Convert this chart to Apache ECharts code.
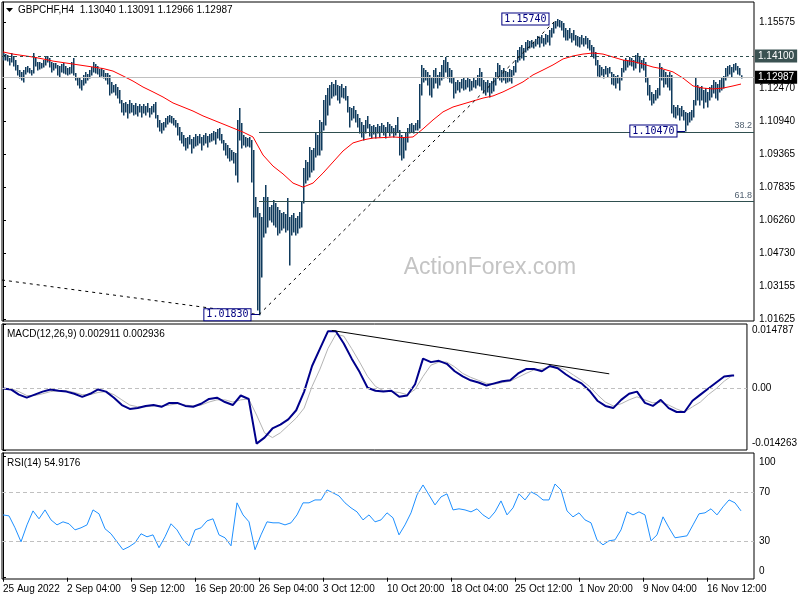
<!DOCTYPE html>
<html><head><meta charset="utf-8">
<script src="https://cdn.jsdelivr.net/npm/echarts@6/dist/echarts.min.js"></script>
<style>html,body{margin:0;padding:0;background:#fff}#c{width:800px;height:600px}</style>
</head><body><div id="c"></div>
<script>
// ---------- DATA ----------
const timeLabels = ["25 Aug 2022","2 Sep 04:00","9 Sep 12:00","16 Sep 20:00","26 Sep 04:00","3 Oct 12:00","10 Oct 20:00","18 Oct 04:00","25 Oct 12:00","1 Nov 20:00","9 Nov 04:00","16 Nov 12:00"];
const labelEveryBars = 32;
const priceTicks = [1.15575,1.14045,1.12470,1.10940,1.09365,1.07835,1.06260,1.04730,1.03155,1.01625];
const macdTicks = [-0.014263,0,0.014787];
const rsiTicks = [0,30,70,100];

const barHigh = [
1.1414,1.1409,1.1405,1.1391,1.1414,1.1400,1.1381,1.1358,1.1334,1.1325,
1.1334,1.1348,1.1353,1.1343,1.1334,1.1414,1.1395,1.1372,1.1372,1.1367,
1.1381,1.1395,1.1400,1.1391,1.1372,1.1367,1.1367,1.1358,1.1353,1.1362,
1.1367,1.1353,1.1343,1.1348,1.1372,1.1391,1.1320,1.1301,1.1296,1.1287,
1.1311,1.1325,1.1315,1.1334,1.1348,1.1372,1.1362,1.1353,1.1339,1.1343,
1.1334,1.1320,1.1320,1.1311,1.1278,1.1264,1.1268,1.1254,1.1240,1.1193,
1.1179,1.1184,1.1174,1.1193,1.1179,1.1169,1.1179,1.1165,1.1174,1.1165,
1.1174,1.1165,1.1179,1.1155,1.1165,1.1174,1.1184,1.1122,1.1099,1.1085,
1.1089,1.1108,1.1118,1.1122,1.1118,1.1108,1.1099,1.1085,1.1066,1.1042,
1.1028,1.1014,1.1019,1.1028,1.1009,1.1019,1.1033,1.1024,1.1033,1.1019,
1.1028,1.1038,1.1024,1.1033,1.1038,1.1047,1.1042,1.1057,1.1061,1.1033,
1.1005,1.0991,1.0981,1.0967,1.0958,1.0948,1.0944,1.1099,1.1155,1.1085,
1.1028,1.1019,1.1014,1.1019,1.1005,1.0958,1.0737,1.0689,1.0661,1.0642,
1.0737,1.0793,1.0737,1.0689,1.0699,1.0722,1.0708,1.0689,1.0675,1.0661,
1.0666,1.0656,1.0732,1.0642,1.0652,1.0661,1.0638,1.0647,1.0666,1.0713,
1.0873,1.0911,1.0901,1.0972,1.0958,1.0967,1.1038,1.1028,1.1099,1.1089,
1.1193,1.1217,1.1249,1.1264,1.1278,1.1268,1.1287,1.1264,1.1259,1.1268,
1.1249,1.1259,1.1212,1.1160,1.1155,1.1165,1.1146,1.1127,1.1108,1.1089,
1.1075,1.1099,1.1118,1.1080,1.1071,1.1075,1.1066,1.1080,1.1071,1.1085,
1.1075,1.1066,1.1089,1.1080,1.1071,1.1061,1.1075,1.1113,1.1052,1.1028,
1.1019,1.1042,1.1061,1.1080,1.1085,1.1075,1.1085,1.1099,1.1268,1.1358,
1.1343,1.1334,1.1325,1.1311,1.1296,1.1334,1.1343,1.1311,1.1325,1.1358,
1.1381,1.1395,1.1372,1.1343,1.1334,1.1296,1.1278,1.1287,1.1278,1.1292,
1.1296,1.1287,1.1301,1.1292,1.1282,1.1296,1.1287,1.1311,1.1343,1.1325,
1.1287,1.1278,1.1287,1.1273,1.1282,1.1296,1.1325,1.1367,1.1358,1.1334,
1.1343,1.1329,1.1325,1.1339,1.1334,1.1353,1.1381,1.1428,1.1442,1.1452,
1.1438,1.1466,1.1475,1.1470,1.1475,1.1466,1.1480,1.1494,1.1489,1.1499,
1.1485,1.1503,1.1499,1.1522,1.1532,1.1560,1.1565,1.1574,1.1569,1.1565,
1.1555,1.1532,1.1522,1.1532,1.1508,1.1522,1.1499,1.1494,1.1489,1.1499,
1.1485,1.1494,1.1485,1.1475,1.1452,1.1442,1.1419,1.1381,1.1358,1.1348,
1.1339,1.1353,1.1343,1.1348,1.1325,1.1315,1.1306,1.1311,1.1301,1.1343,
1.1381,1.1391,1.1381,1.1395,1.1391,1.1381,1.1405,1.1414,1.1400,1.1381,
1.1391,1.1372,1.1301,1.1264,1.1231,1.1221,1.1240,1.1249,1.1367,1.1348,
1.1334,1.1325,1.1311,1.1325,1.1311,1.1169,1.1160,1.1169,1.1155,1.1165,
1.1146,1.1137,1.1132,1.1137,1.1146,1.1193,1.1296,1.1264,1.1249,1.1259,
1.1240,1.1249,1.1231,1.1254,1.1264,1.1287,1.1278,1.1268,1.1287,1.1296,
1.1306,1.1343,1.1353,1.1358,1.1348,1.1362,1.1367,1.1353,1.1343,1.13091
];
const barLow = [
1.1381,1.1381,1.1376,1.1358,1.1372,1.1353,1.1334,1.1311,1.1296,1.1287,
1.1278,1.1315,1.1325,1.1320,1.1311,1.1320,1.1353,1.1334,1.1339,1.1343,
1.1348,1.1358,1.1372,1.1348,1.1325,1.1334,1.1343,1.1311,1.1301,1.1325,
1.1320,1.1315,1.1311,1.1315,1.1320,1.1311,1.1287,1.1264,1.1249,1.1240,
1.1264,1.1273,1.1287,1.1296,1.1311,1.1325,1.1320,1.1315,1.1301,1.1306,
1.1296,1.1287,1.1268,1.1217,1.1226,1.1231,1.1217,1.1202,1.1179,1.1137,
1.1122,1.1137,1.1108,1.1132,1.1137,1.1122,1.1127,1.1118,1.1137,1.1113,
1.1132,1.1122,1.1137,1.1113,1.1127,1.1137,1.1108,1.1066,1.1047,1.1038,
1.1052,1.1066,1.1080,1.1089,1.1085,1.1075,1.1066,1.1028,1.1005,1.0991,
1.0977,1.0958,1.0967,1.0986,1.0944,1.0967,1.0977,1.0981,1.0991,1.0958,
1.0981,1.0991,1.0972,1.0995,1.1000,1.1005,1.0986,1.1014,1.1005,1.0991,
1.0958,1.0934,1.0920,1.0906,1.0911,1.0897,1.0840,1.0807,1.1005,1.0967,
1.0981,1.0972,1.0977,1.0972,1.0807,1.0642,1.0642,1.0205,1.0183,1.0360,
1.0548,1.0567,1.0595,1.0628,1.0619,1.0605,1.0595,1.0558,1.0567,1.0581,
1.0591,1.0572,1.0581,1.0417,1.0558,1.0572,1.0558,1.0567,1.0591,1.0595,
1.0708,1.0802,1.0817,1.0831,1.0854,1.0864,1.0925,1.0934,1.0934,1.0958,
1.1052,1.1075,1.1122,1.1169,1.1202,1.1212,1.1217,1.1193,1.1179,1.1207,
1.1202,1.1193,1.1137,1.1066,1.1099,1.1108,1.1089,1.1066,1.1038,1.1019,
1.1005,1.1038,1.1061,1.1024,1.1014,1.1033,1.1014,1.1038,1.1019,1.1042,
1.1028,1.1014,1.1042,1.1024,1.1038,1.1019,1.1028,1.1042,1.0934,1.0911,
1.0920,1.0958,1.0995,1.1038,1.1042,1.1038,1.1052,1.1052,1.1061,1.1217,
1.1278,1.1287,1.1264,1.1217,1.1207,1.1249,1.1273,1.1249,1.1264,1.1287,
1.1296,1.1325,1.1296,1.1278,1.1273,1.1202,1.1226,1.1240,1.1231,1.1249,
1.1240,1.1245,1.1254,1.1235,1.1240,1.1254,1.1249,1.1264,1.1259,1.1240,
1.1226,1.1217,1.1231,1.1207,1.1226,1.1235,1.1264,1.1296,1.1287,1.1278,
1.1287,1.1273,1.1278,1.1282,1.1273,1.1311,1.1325,1.1372,1.1381,1.1391,
1.1381,1.1419,1.1428,1.1438,1.1442,1.1438,1.1447,1.1456,1.1442,1.1461,
1.1447,1.1456,1.1466,1.1452,1.1489,1.1508,1.1532,1.1541,1.1536,1.1522,
1.1489,1.1475,1.1475,1.1485,1.1466,1.1475,1.1452,1.1447,1.1442,1.1456,
1.1447,1.1456,1.1438,1.1428,1.1400,1.1391,1.1358,1.1306,1.1301,1.1311,
1.1296,1.1315,1.1301,1.1320,1.1268,1.1264,1.1249,1.1273,1.1240,1.1287,
1.1325,1.1334,1.1348,1.1358,1.1353,1.1334,1.1343,1.1367,1.1325,1.1343,
1.1334,1.1278,1.1217,1.1193,1.1169,1.1179,1.1193,1.1202,1.1217,1.1287,
1.1254,1.1268,1.1254,1.1240,1.1132,1.1113,1.1108,1.1122,1.1099,1.1118,
1.1099,1.1047,1.1075,1.1089,1.1099,1.1113,1.1169,1.1193,1.1169,1.1193,
1.1155,1.1184,1.1160,1.1193,1.1207,1.1226,1.1202,1.1193,1.1231,1.1240,
1.1249,1.1287,1.1306,1.1315,1.1301,1.1325,1.1334,1.1315,1.1311,1.12966
];
// red moving average, read every 5 bars (last value = last bar)
const maValues = [
1.1419,1.1409,1.1402,1.1395,1.1386,1.1376,1.1369,1.1362,1.1355,1.1348,
1.1341,1.1329,1.1306,1.1282,1.1254,1.1231,1.1207,1.1179,1.1160,1.1141,
1.1118,1.1099,1.1080,1.1061,1.1042,1.1019,1.0934,1.0882,1.0845,1.0802,
1.0783,1.0802,1.0849,1.0901,1.0953,1.0991,1.1005,1.1014,1.1016,1.1019,
1.1016,1.1019,1.1057,1.1099,1.1137,1.1160,1.1174,1.1188,1.1202,1.1212,
1.1231,1.1254,1.1278,1.1311,1.1334,1.1358,1.1386,1.1400,1.1409,1.1414,
1.1409,1.1395,1.1381,1.1374,1.1362,1.1348,1.1339,1.1325,1.1296,1.1259,
1.1249,1.1245,1.1249,1.1259,1.1268
];
// MACD(12,26,9), read every 4 bars (last value = last bar)
const macdMain = [
-0.0001,-0.0003,-0.0015,-0.0022,-0.0015,-0.0008,-0.0003,-0.0006,-0.0008,-0.0013,
-0.0020,-0.0013,-0.0003,-0.0008,-0.0022,-0.0039,-0.0048,-0.0046,-0.0041,-0.0039,
-0.0043,-0.0034,-0.0034,-0.0041,-0.0043,-0.0036,-0.0025,-0.0022,-0.0032,-0.0039,
-0.0017,-0.0025,-0.0128,-0.0114,-0.0093,-0.0084,-0.0072,-0.0051,-0.0008,0.0051,
0.0091,0.0131,0.0131,0.0103,0.0068,0.0037,0.0001,-0.0006,-0.0008,-0.0006,
-0.0020,-0.0017,0.0009,0.0068,0.0060,0.0063,0.0056,0.0039,0.0027,0.0018,
0.0013,0.0006,0.0011,0.0016,0.0018,0.0034,0.0044,0.0044,0.0039,0.0051,
0.0046,0.0032,0.0020,0.0011,-0.0006,-0.0029,-0.0041,-0.0046,-0.0027,-0.0013,
-0.0008,-0.0034,-0.0041,-0.0027,-0.0046,-0.0055,-0.0055,-0.0029,-0.0015,-0.0001,
0.0013,0.0027,0.0029,0.002911
];
const macdSignal = [
-0.0001,-0.0001,-0.0008,-0.0017,-0.0017,-0.0013,-0.0008,-0.0006,-0.0006,-0.0010,
-0.0015,-0.0015,-0.0010,-0.0008,-0.0015,-0.0027,-0.0039,-0.0043,-0.0043,-0.0041,
-0.0041,-0.0039,-0.0036,-0.0039,-0.0041,-0.0039,-0.0032,-0.0027,-0.0027,-0.0032,
-0.0027,-0.0025,-0.0062,-0.0103,-0.0114,-0.0103,-0.0086,-0.0069,-0.0046,0.0004,
0.0044,0.0091,0.0124,0.0120,0.0091,0.0060,0.0027,0.0004,-0.0006,-0.0008,
-0.0010,-0.0015,-0.0003,0.0027,0.0053,0.0060,0.0060,0.0049,0.0034,0.0025,
0.0018,0.0011,0.0009,0.0013,0.0016,0.0025,0.0034,0.0042,0.0044,0.0049,
0.0049,0.0042,0.0030,0.0018,0.0004,-0.0015,-0.0032,-0.0041,-0.0036,-0.0027,
-0.0020,-0.0027,-0.0034,-0.0032,-0.0039,-0.0048,-0.0055,-0.0043,-0.0032,-0.0015,
-0.0001,0.0016,0.0029,0.002936
];
// RSI(14), read every 3 bars
const rsiValues = [
51.6,50.8,41.0,29.5,43.4,54.9,48.4,55.7,47.5,43.4,
45.9,44.3,39.3,41.0,43.4,55.7,52.5,40.2,36.1,29.5,
23.0,25.4,28.7,36.1,33.6,35.2,24.6,33.6,44.3,39.3,
31.1,26.2,39.3,41.0,46.7,48.4,35.2,32.8,26.2,61.5,
51.6,45.9,23.0,35.2,45.9,45.1,45.1,43.4,45.1,51.6,
61.5,61.5,63.9,63.9,72.1,69.7,67.2,61.5,57.4,54.1,
47.5,51.6,45.9,47.5,53.3,49.2,35.2,43.4,53.3,68.0,
76.2,68.0,59.8,66.4,68.9,55.7,56.6,55.7,54.1,56.6,
51.6,48.4,54.1,63.1,51.6,57.4,68.9,63.9,70.5,68.0,
63.9,63.9,77.0,72.1,54.9,50.0,53.3,47.5,45.1,31.1,
27.0,30.3,31.1,39.3,54.1,51.6,54.1,51.6,30.3,35.2,
50.0,41.0,32.8,33.6,34.4,43.4,52.5,53.3,56.6,51.6,
58.2,63.9,61.5,54.9176
];
const resistance = 1.14100;
const lastClose = 1.12987;
const swingLow = 1.01830, swingLowIdx = 128;
const swingHigh = 1.15740, swingHighIdx = 277;
const pullLow = 1.10470, pullLowIdx = 341;
const fibLevels = [38.2, 61.8];
const macdTrend = [[166, 0.0133], [306, 0.0033]];
const leftTrendStart = 1.0346;

// ---------- CHART ----------
const FONT = '"Liberation Sans", Arial, sans-serif';
const LAST = barHigh.length - 1;
const X_MIN = -0.5, X_MAX = 375.5;
const stepData = (arr, step) => arr.map((v, k) => [Math.min(k * step, LAST), v]);
const tickIdx = timeLabels.map((_, k) => k * labelEveryBars);
const fibVal = p => swingHigh - p / 100 * (swingHigh - swingLow);
const noLbl = {show: false};

const chart = echarts.init(document.getElementById('c'));
const hiddenX = g => ({gridIndex: g, type: 'value', min: X_MIN, max: X_MAX, show: false});
const rightY = (g, min, max, ticks, fmt) => ({
  gridIndex: g, type: 'value', position: 'right', min: min, max: max,
  axisLine: {show: true, lineStyle: {color: '#000', width: 1}},
  axisTick: {show: true, length: 3, customValues: ticks, lineStyle: {color: '#000'}},
  axisLabel: {customValues: ticks, formatter: fmt, color: '#000', fontSize: 10, fontFamily: FONT, margin: 5, lineHeight: 13},
  splitLine: {show: false}
});
const boxLabel = (txt) => ({
  show: true, position: 'left', distance: 8, formatter: txt,
  backgroundColor: '#fff', borderColor: '#000080', borderWidth: 1, color: '#000080',
  padding: [1, 2, 0, 2], fontFamily: '"DejaVu Sans Mono", monospace', fontSize: 10
});

chart.setOption({
  animation: false,
  backgroundColor: '#fff',
  textStyle: {fontFamily: FONT},
  grid: [
    {left: 2, top: 2, width: 752, height: 319, show: true, borderColor: '#000', borderWidth: 1},
    {left: 2, top: 324, width: 752, height: 126, show: true, borderColor: '#000', borderWidth: 1},
    {left: 2, top: 453, width: 752, height: 126, show: true, borderColor: '#000', borderWidth: 1}
  ],
  xAxis: [hiddenX(0), hiddenX(1), {
    gridIndex: 2, type: 'value', min: X_MIN, max: X_MAX,
    axisLine: {show: false},
    axisTick: {show: true, length: 4, customValues: tickIdx, lineStyle: {color: '#000'}},
    axisLabel: {customValues: tickIdx, formatter: v => timeLabels[tickIdx.indexOf(v)], align: 'left',
      color: '#000', fontSize: 10, fontFamily: FONT, margin: 5},
    splitLine: {show: false}
  }],
  yAxis: [
    rightY(0, 1.01531, 1.16540, priceTicks, v => v.toFixed(5)),
    rightY(1, -0.014263, 0.014787, macdTicks, v => v === 0 ? '0.00' : (v > 0 ? '\n' + v.toFixed(6) : v.toFixed(6) + '\n')),
    rightY(2, -1.07, 102.47, rsiTicks, v => v === 100 ? '\n100' : (v === 0 ? '0\n' : String(v)))
  ],
  series: [
    {
      type: 'custom', xAxisIndex: 0, yAxisIndex: 0, silent: true, z: 3,
      data: barHigh.map((h, i) => [i, h, barLow[i]]),
      encode: {x: 0, y: [1, 2]},
      renderItem: function (params, api) {
        const a = api.coord([api.value(0), api.value(1)]);
        const b = api.coord([api.value(0), api.value(2)]);
        const x = Math.round(a[0]) + 0.75;
        return {type: 'line', shape: {x1: x, y1: a[1], x2: x, y2: b[1] + 0.5},
          style: {stroke: '#0f3a5c', lineWidth: 1.5}};
      }
    },
    {
      type: 'line', xAxisIndex: 0, yAxisIndex: 0, data: stepData(maValues, 5), symbol: 'none',
      lineStyle: {color: '#ff0000', width: 1}, silent: true, z: 4,
      markLine: {
        silent: true, symbol: ['none', 'none'], animation: false,
        data: [
          {yAxis: resistance, lineStyle: {color: '#2f4f4f', type: [3, 3], width: 1},
            label: {show: true, position: 'end', distance: 1, formatter: resistance.toFixed(5),
              backgroundColor: '#3b5252', color: '#fff', padding: [2, 3, 1, 3], fontSize: 10, fontFamily: FONT}},
          {yAxis: lastClose, lineStyle: {color: '#c0c0c0', type: 'solid', width: 1},
            label: {show: true, position: 'end', distance: 1, formatter: lastClose.toFixed(5),
              backgroundColor: '#000', color: '#fff', padding: [2, 3, 1, 3], fontSize: 10, fontFamily: FONT}},
          ...fibLevels.map(p => [
            {coord: [swingLowIdx, fibVal(p)], lineStyle: {color: '#2f4f4f', type: 'solid', width: 1},
              label: {show: true, position: 'insideEndTop', formatter: p.toFixed(1), color: '#4f5f6f', fontSize: 9, fontFamily: FONT, distance: 2}},
            {coord: [X_MAX, fibVal(p)]}
          ]),
          [{coord: [swingLowIdx, swingLow], lineStyle: {color: '#000', type: [3, 4], width: 1}, label: noLbl},
           {coord: [swingHighIdx, swingHigh]}],
          [{coord: [X_MIN, leftTrendStart], lineStyle: {color: '#000', type: [3, 4], width: 1}, label: noLbl},
           {coord: [swingLowIdx, swingLow]}],
          [{coord: [pullLowIdx - 4.5, pullLow], lineStyle: {color: '#000080', type: 'solid', width: 1}, label: noLbl},
           {coord: [pullLowIdx, pullLow]}],
          [{coord: [swingLowIdx - 4.5, swingLow], lineStyle: {color: '#000080', type: 'solid', width: 1}, label: noLbl},
           {coord: [swingLowIdx, swingLow]}]
        ]
      },
      markPoint: {
        silent: true, symbol: 'rect', symbolSize: 1, itemStyle: {color: 'rgba(0,0,0,0)'},
        data: [
          {coord: [swingHighIdx, swingHigh], label: boxLabel(swingHigh.toFixed(5))},
          {coord: [pullLowIdx, pullLow], label: boxLabel(pullLow.toFixed(5))},
          {coord: [swingLowIdx, swingLow], label: boxLabel(swingLow.toFixed(5))}
        ]
      }
    },
    {
      type: 'line', xAxisIndex: 1, yAxisIndex: 1, data: stepData(macdSignal, 4), symbol: 'none',
      lineStyle: {color: '#b4b4b4', width: 1}, silent: true, z: 3,
      markLine: {
        silent: true, symbol: ['none', 'none'],
        data: [
          {yAxis: 0, lineStyle: {color: '#c0c0c0', type: [4, 3], width: 1}, label: noLbl},
          [{coord: macdTrend[0], lineStyle: {color: '#000', type: 'solid', width: 1}, label: noLbl}, {coord: macdTrend[1]}]
        ]
      }
    },
    {
      type: 'line', xAxisIndex: 1, yAxisIndex: 1, data: stepData(macdMain, 4), symbol: 'none',
      lineStyle: {color: '#00008b', width: 2}, silent: true, z: 4
    },
    {
      type: 'line', xAxisIndex: 2, yAxisIndex: 2, data: stepData(rsiValues, 3), symbol: 'none',
      lineStyle: {color: '#1e90ff', width: 1}, silent: true, z: 4,
      markLine: {
        silent: true, symbol: ['none', 'none'],
        data: [
          {yAxis: 70, lineStyle: {color: '#c0c0c0', type: [4, 3], width: 1}, label: noLbl},
          {yAxis: 30, lineStyle: {color: '#c0c0c0', type: [4, 3], width: 1}, label: noLbl}
        ]
      }
    }
  ],
  graphic: [
    {type: 'text', x: 490, y: 268, z: 0, style: {text: 'ActionForex.com', fill: '#c4c4c4', fontSize: 23, fontFamily: FONT, align: 'center', verticalAlign: 'middle'}},
    {type: 'polygon', shape: {points: [[6, 8], [13, 8], [9.5, 12]]}, style: {fill: '#000'}},
    {type: 'text', x: 18, y: 10.5, style: {text: 'GBPCHF,H4  1.13040 1.13091 1.12966 1.12987', fill: '#000', fontSize: 10, fontFamily: FONT, verticalAlign: 'middle'}},
    {type: 'text', x: 7, y: 334, style: {text: 'MACD(12,26,9) 0.002911 0.002936', fill: '#000', fontSize: 10, fontFamily: FONT, verticalAlign: 'middle'}},
    {type: 'text', x: 7, y: 463, style: {text: 'RSI(14) 54.9176', fill: '#000', fontSize: 10, fontFamily: FONT, verticalAlign: 'middle'}}
  ]
});
</script>
</body></html>
